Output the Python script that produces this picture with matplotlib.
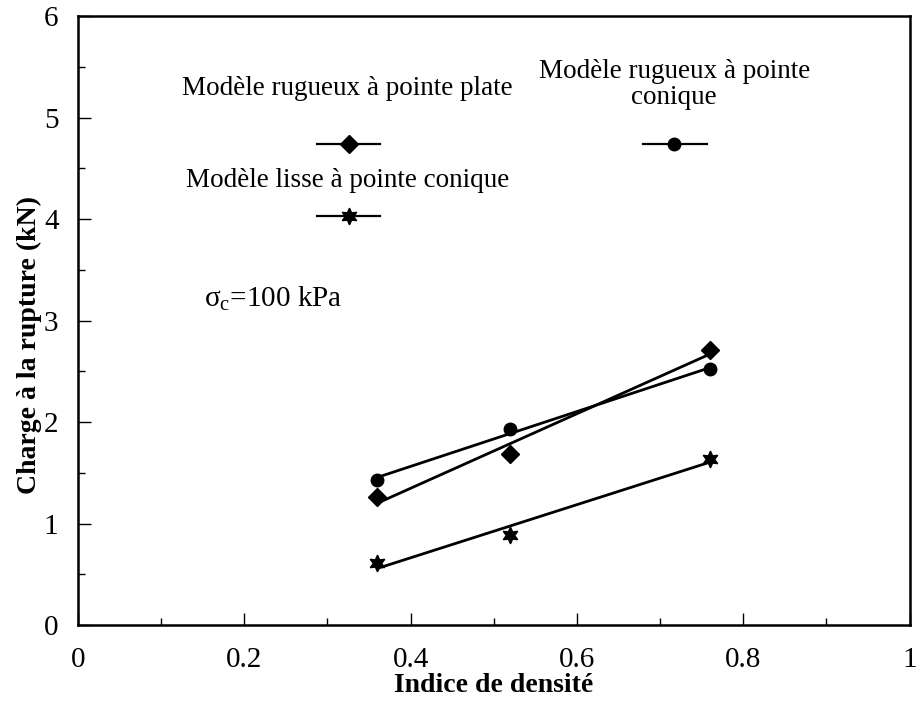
import numpy as np
import matplotlib
matplotlib.use("Agg")
import matplotlib.pyplot as plt
from matplotlib.ticker import MultipleLocator, FuncFormatter

plt.rcParams['font.family'] = ['Liberation Serif', 'DejaVu Serif']

# Data
densite = [0.36, 0.52, 0.76]
plate = [1.26, 1.69, 2.71]       # rugueux, pointe plate (diamonds)
conique = [1.43, 1.93, 2.52]     # rugueux, pointe conique (circles)
lisse = [0.61, 0.89, 1.64]       # lisse, pointe conique (stars)

star = (6, 1, 0)

fig = plt.figure(figsize=(9.24, 7.06), dpi=100)
ax = fig.add_axes([0.0844, 0.1147, 0.900, 0.8623])

x = np.array(densite)
for y, mk, ms in [(plate, 'D', 9), (conique, 'o', 9), (lisse, star, 12)]:
    ax.plot(x, y, ls='none', marker=mk, ms=ms, color='black')
    # straight fitted line through each series
    p = np.polyfit(x, y, 1)
    xe = np.array([x.min(), x.max()])
    ax.plot(xe, np.polyval(p, xe), color='black', lw=2)

# legend drawn as free text + sample marks
ax.text(0.324, 5.29, "Modèle rugueux à pointe plate", ha='center', va='center', fontsize=19.5)
ax.plot([0.288, 0.363], [4.74, 4.74], color='black', lw=1.6)
ax.plot(0.326, 4.74, marker='D', ms=9, color='black')

ax.text(0.324, 4.38, "Modèle lisse à pointe conique", ha='center', va='center', fontsize=19.5)
ax.plot([0.288, 0.363], [4.03, 4.03], color='black', lw=1.6)
ax.plot(0.326, 4.03, marker=star, ms=12, color='black')

ax.text(0.717, 5.33, "Modèle rugueux à pointe\nconique", ha='center', va='center',
        fontsize=19.5, linespacing=1.05)
ax.plot([0.68, 0.756], [4.74, 4.74], color='black', lw=1.6)
ax.plot(0.717, 4.74, marker='o', ms=9, color='black')

ax.text(0.152, 3.22, r"σ$_{\mathregular{c}}$=100 kPa", ha='left', va='center', fontsize=21)

ax.set_xlim(0, 1)
ax.set_ylim(0, 6)
ax.xaxis.set_major_locator(MultipleLocator(0.2))
ax.xaxis.set_minor_locator(MultipleLocator(0.1))
ax.yaxis.set_major_locator(MultipleLocator(1))
ax.yaxis.set_minor_locator(MultipleLocator(0.5))
ax.xaxis.set_major_formatter(FuncFormatter(lambda v, pos: "%g" % v))
ax.tick_params(which='both', direction='in', top=False, right=False, labelsize=21)
ax.tick_params(which='major', length=9, width=1)
ax.tick_params(which='minor', length=5, width=1)
ax.tick_params(axis='x', pad=16)
ax.tick_params(axis='y', pad=14)
for s in ax.spines.values():
    s.set_linewidth(1.8)

ax.set_xlabel("Indice de densité", fontsize=20, fontweight='bold', labelpad=0)
ax.set_ylabel("Charge à la rupture (kN)", fontsize=20, fontweight='bold')
ax.yaxis.set_label_coords(-0.043, 0.46)

fig.savefig("out.png", dpi=100)
